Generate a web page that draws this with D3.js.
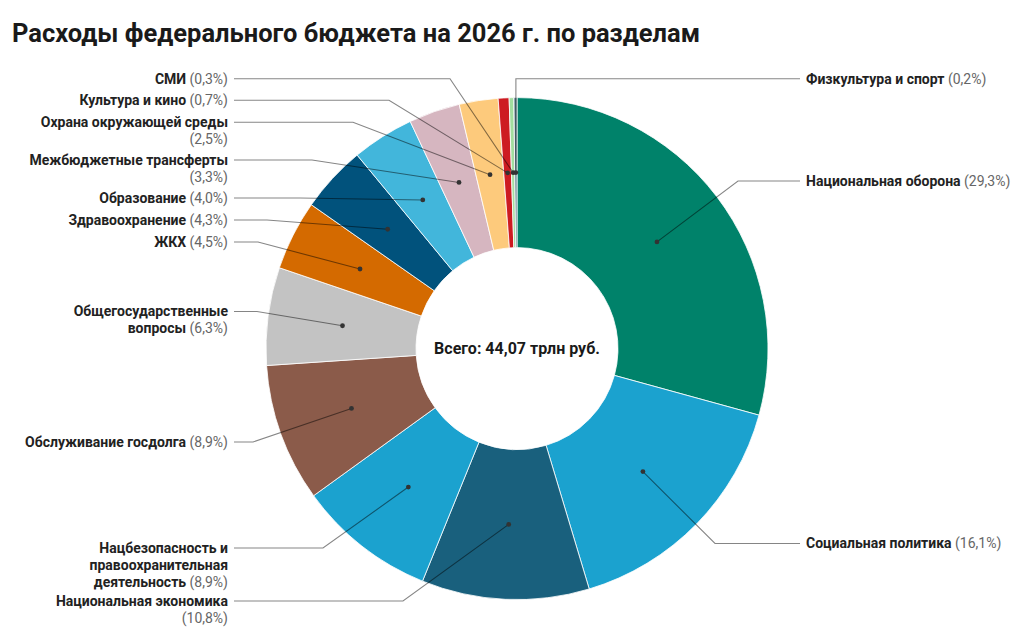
<!DOCTYPE html>
<html>
<head>
<meta charset="utf-8">
<script src="https://cdn.jsdelivr.net/npm/d3@7"></script>
<style>
  body { margin: 0; background: #fff; }
  text { font-family: Roboto, "Noto Sans", sans-serif; }
</style>
</head>
<body>
<div id="chart"></div>
<script>
// Budget 2026 by section, % of total (clockwise from 12 o'clock)
const categories = [
  "Национальная оборона", "Социальная политика", "Национальная экономика",
  "Нацбезопасность и правоохранительная деятельность", "Обслуживание госдолга",
  "Общегосударственные вопросы", "ЖКХ", "Здравоохранение", "Образование",
  "Межбюджетные трансферты", "Охрана окружающей среды", "Культура и кино",
  "СМИ", "Физкультура и спорт"
];
const shares = [29.3, 16.1, 10.8, 8.9, 8.9, 6.3, 4.5, 4.3, 4.0, 3.3, 2.5, 0.7, 0.3, 0.2];
const colors = [
  "#00826a", "#1ba2cf", "#19607d", "#1ba2cf", "#8b5b4a", "#c3c3c3", "#d46a00",
  "#01527c", "#42b6db", "#d6b6c0", "#fdca7c", "#cd1b22", "#a2dd9f", "#62808f"
];
// how each label is broken into lines, the share is added to the last line
const labelLines = [
  ["Национальная оборона"], ["Социальная политика"], ["Национальная экономика", ""],
  ["Нацбезопасность и", "правоохранительная", "деятельность"], ["Обслуживание госдолга"],
  ["Общегосударственные", "вопросы"], ["ЖКХ"], ["Здравоохранение"], ["Образование"],
  ["Межбюджетные трансферты", ""], ["Охрана окружающей среды", ""], ["Культура и кино"],
  ["СМИ"], ["Физкультура и спорт"]
];
const totalText = "Всего: 44,07 трлн руб.";
const title = "Расходы федерального бюджета на 2026 г. по разделам";

// label placement: side, first line y, x where the leader line bends
const labelLayout = [
  {side: "r", y: 181, bend: 738}, {side: "r", y: 543.5, bend: 715},
  {side: "l", y: 601, bend: 403}, {side: "l", y: 548, bend: 323},
  {side: "l", y: 442, bend: 253}, {side: "l", y: 311.5, bend: 257},
  {side: "l", y: 242, bend: 258}, {side: "l", y: 220, bend: 267},
  {side: "l", y: 198, bend: 300}, {side: "l", y: 160, bend: 312},
  {side: "l", y: 122.3, bend: 353}, {side: "l", y: 100.3, bend: 389},
  {side: "l", y: 78.7, bend: 450}, {side: "r", y: 78.7, bend: null}
];

const width = 1024;
const height = 641;
const cx = 517, cy = 348.6;
const rInner = 101, rOuter = 251;
const lineH = 17;
const leftX = 228, rightX = 806;

const data = categories.map((c, i) => ({name: c, value: shares[i], color: colors[i],
  lines: labelLines[i], layout: labelLayout[i]}));

const svg = d3.select("#chart")
  .append("svg")
  .attr("width", width)
  .attr("height", height);

svg.append("text")
  .attr("x", 12)
  .attr("y", 42)
  .attr("font-size", "25.5px")
  .attr("font-weight", 700)
  .attr("fill", "#1a1a1a")
  .text(title);

const pie = d3.pie().value(d => d.value).sort(null);
const arc = d3.arc().innerRadius(rInner).outerRadius(rOuter);
const arcs = pie(data);

const g = svg.append("g").attr("transform", `translate(${cx},${cy})`);

g.selectAll(".slice")
  .data(arcs)
  .enter()
  .append("path")
    .attr("class", "slice")
    .attr("d", arc)
    .attr("fill", d => d.data.color)
    .attr("stroke", "#fff")
    .attr("stroke-width", 0.8);

g.append("text")
  .attr("text-anchor", "middle")
  .attr("dy", "0.35em")
  .attr("font-size", "16px")
  .attr("font-weight", 700)
  .attr("fill", "#1a1a1a")
  .text(totalText);

// leader lines
const fmt = v => d3.format(".1f")(v).replace(".", ",");

arcs.forEach(d => {
  const [px, py] = arc.centroid(d);
  const L = d.data.layout;
  const y = L.y - cy;
  const startX = (L.side === "l" ? leftX + 6 : rightX - 6) - cx;
  const bendX = (L.bend === null ? px + cx : L.bend) - cx;
  g.append("path")
    .attr("d", d3.line()([[startX, y], [bendX, y], [px, py]]))
    .attr("fill", "none")
    .attr("stroke", "#000")
    .attr("stroke-opacity", 0.48)
    .attr("stroke-width", 1.1);
});

g.selectAll(".dot")
  .data(arcs)
  .enter()
  .append("circle")
    .attr("class", "dot")
    .attr("cx", d => arc.centroid(d)[0])
    .attr("cy", d => arc.centroid(d)[1])
    .attr("r", 2.4)
    .attr("fill", "#333");

// labels
data.forEach(d => {
  const L = d.layout;
  d.lines.forEach((ln, j) => {
    const t = svg.append("text")
      .attr("x", L.side === "l" ? leftX : rightX)
      .attr("y", L.y + j * lineH)
      .attr("dy", "0.35em")
      .attr("font-size", "14px")
      .attr("text-anchor", L.side === "l" ? "end" : "start");
    if (ln !== "") {
      t.append("tspan").attr("font-weight", 700).attr("fill", "#222").text(ln);
    }
    if (j === d.lines.length - 1) {
      t.append("tspan").attr("fill", "#666")
        .text((ln !== "" ? " " : "") + "(" + fmt(d.value) + "%)");
    }
  });
});
</script>
</body>
</html>
